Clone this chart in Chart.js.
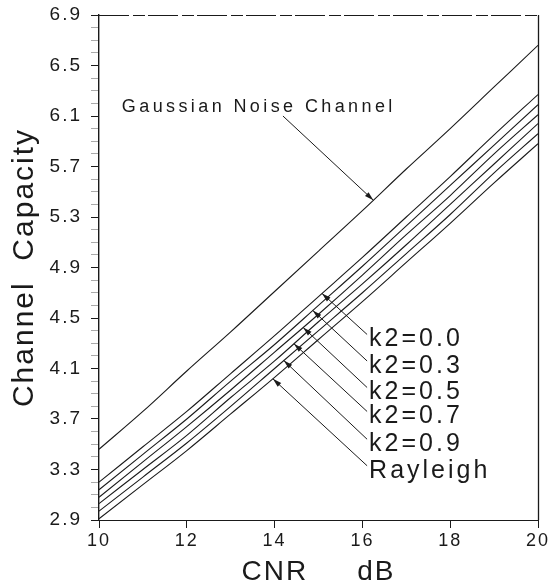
<!DOCTYPE html>
<html>
<head>
<meta charset="utf-8">
<title>Channel Capacity vs CNR</title>
<script src="https://cdn.jsdelivr.net/npm/chart.js@4/dist/chart.umd.min.js"></script>
<style>
  html, body { margin: 0; padding: 0; background: #fff; }
  #wrap { width: 559px; height: 587px; }
</style>
</head>
<body>
<div id="wrap"><canvas id="capacity-chart"></canvas></div>
<script>
// ---- data ----
const cnrDb = [10, 11, 12, 13, 14, 15, 16, 17, 18, 19, 20];

const gaussian = [3.46, 3.76, 4.08, 4.39, 4.71, 5.03, 5.35, 5.68, 6.00, 6.33, 6.66];
const k2_00    = [3.20, 3.48, 3.76, 4.06, 4.36, 4.67, 4.98, 5.30, 5.62, 5.95, 6.27];
const k2_03    = [3.14, 3.42, 3.70, 4.00, 4.29, 4.60, 4.91, 5.23, 5.55, 5.87, 6.19];
const k2_05    = [3.08, 3.36, 3.64, 3.93, 4.23, 4.53, 4.84, 5.16, 5.47, 5.80, 6.11];
const k2_07    = [3.03, 3.30, 3.57, 3.87, 4.16, 4.47, 4.77, 5.08, 5.40, 5.72, 6.04];
const k2_09    = [2.97, 3.24, 3.51, 3.80, 4.10, 4.40, 4.70, 5.01, 5.32, 5.65, 5.96];
const rayleigh = [2.91, 3.18, 3.45, 3.74, 4.03, 4.33, 4.63, 4.94, 5.25, 5.57, 5.88];

const seriesNames = ['Gaussian Noise Channel', 'k2=0.0', 'k2=0.3', 'k2=0.5', 'k2=0.7', 'k2=0.9', 'Rayleigh'];
const seriesValues = [gaussian, k2_00, k2_03, k2_05, k2_07, k2_09, rayleigh];

const xTickLabels = ['10', '12', '14', '16', '18', '20'];
const yTickLabels = ['2.9', '3.3', '3.7', '4.1', '4.5', '4.9', '5.3', '5.7', '6.1', '6.5', '6.9'];
const yMinorTicks = [];
for (let i = 0; i <= 40; i++) yMinorTicks.push(+(2.9 + i * 0.1).toFixed(1));

// label callouts: [text, label x, label y, arrow tip x on its curve]
const curveLabels = [
    ['k2=0.0',   16.13, 4.33, 15.08],
    ['k2=0.3',   16.13, 4.12, 14.87],
    ['k2=0.5',   16.13, 3.91, 14.65],
    ['k2=0.7',   16.13, 3.72, 14.44],
    ['k2=0.9',   16.13, 3.50, 14.21],
    ['Rayleigh', 16.13, 3.29, 13.96]
];

const FONT = "'Liberation Sans', Arial, sans-serif";
const INK = '#1a1a1a';

function valueAt(values, x) {
    // linear interpolation along a series
    const i = Math.min(Math.max(Math.floor(x - cnrDb[0]), 0), cnrDb.length - 2);
    const t = x - cnrDb[i];
    return values[i] + (values[i + 1] - values[i]) * t;
}

function arrow(ctx, x0, y0, x1, y1) {
    const ang = Math.atan2(y1 - y0, x1 - x0);
    const len = 9, half = 2.6;
    ctx.beginPath();
    ctx.moveTo(x0, y0);
    ctx.lineTo(x1, y1);
    ctx.stroke();
    ctx.beginPath();
    ctx.moveTo(x1, y1);
    ctx.lineTo(x1 - len * Math.cos(ang) + half * Math.sin(ang), y1 - len * Math.sin(ang) - half * Math.cos(ang));
    ctx.lineTo(x1 - len * Math.cos(ang) - half * Math.sin(ang), y1 - len * Math.sin(ang) + half * Math.cos(ang));
    ctx.closePath();
    ctx.fill();
}

// ---- frame, letter spacing and callouts ----
const decorations = {
    id: 'decorations',
    beforeDraw(chart) {
        chart.ctx.letterSpacing = '2px';
    },
    afterDraw(chart) {
        const { ctx, chartArea: a, scales: { x, y } } = chart;
        ctx.save();
        ctx.strokeStyle = INK;
        ctx.fillStyle = INK;
        ctx.lineWidth = 1;

        // top (dashed) and right (solid) border
        ctx.setLineDash([30, 4, 12, 3]);
        ctx.beginPath();
        ctx.moveTo(a.left, a.top + 0.5);
        ctx.lineTo(a.right, a.top + 0.5);
        ctx.stroke();
        ctx.setLineDash([]);
        ctx.lineWidth = 1.3;
        ctx.beginPath();
        ctx.moveTo(a.right + 0.5, a.top);
        ctx.lineTo(a.right + 0.5, a.bottom);
        ctx.stroke();

        // Gaussian callout
        ctx.lineWidth = 1;
        ctx.letterSpacing = '3.4px';
        ctx.font = '18px ' + FONT;
        ctx.textBaseline = 'middle';
        ctx.textAlign = 'left';
        ctx.fillText(seriesNames[0], x.getPixelForValue(10.52), y.getPixelForValue(6.17));
        const gx = 16.25;
        arrow(ctx, x.getPixelForValue(14.19), y.getPixelForValue(6.10),
              x.getPixelForValue(gx), y.getPixelForValue(valueAt(gaussian, gx)));

        // fading-curve callouts
        ctx.font = '25px ' + FONT;
        ctx.letterSpacing = '3px';
        curveLabels.forEach(([text, lx, ly, tipX], i) => {
            const px = x.getPixelForValue(lx);
            const py = y.getPixelForValue(ly);
            ctx.fillText(text, px + 1, py);
            arrow(ctx, px - 1, py - 5,
                  x.getPixelForValue(tipX), y.getPixelForValue(valueAt(seriesValues[i + 1], tipX)));
        });

        ctx.restore();
        ctx.letterSpacing = '0px';
    }
};

const ctx = document.getElementById('capacity-chart');

new Chart(ctx, {
    type: 'line',
    data: {
        datasets: seriesValues.map((vals, i) => ({
            label: seriesNames[i],
            data: cnrDb.map((c, j) => ({ x: c, y: vals[j] })),
            borderColor: INK,
            borderWidth: 1.1,
            pointRadius: 0,
            fill: false,
            cubicInterpolationMode: 'monotone'
        }))
    },
    options: {
        responsive: true,
        maintainAspectRatio: false,
        animation: false,
        layout: { padding: { left: 4, top: 15, right: 21, bottom: 0 } },
        plugins: {
            legend: { display: false },
            tooltip: { enabled: false }
        },
        scales: {
            x: {
                type: 'linear',
                min: 10,
                max: 20,
                afterBuildTicks: axis => {
                    axis.ticks = xTickLabels.map(v => ({ value: +v }));
                },
                afterFit: axis => { axis.height = 67; },
                ticks: {
                    color: INK,
                    font: { family: FONT, size: 18 },
                    padding: 2,
                    maxRotation: 0,
                    callback: v => String(v)
                },
                grid: {
                    drawOnChartArea: false,
                    tickLength: 8,
                    color: INK
                },
                border: { color: INK, width: 1, dash: [30, 4, 12, 3] },
                title: {
                    display: true,
                    text: 'CNR     dB',
                    color: INK,
                    font: { family: FONT, size: 28, lineHeight: 1 },
                    padding: { top: 0, bottom: 1 }
                }
            },
            y: {
                type: 'linear',
                min: 2.9,
                max: 6.9,
                afterBuildTicks: axis => {
                    axis.ticks = yMinorTicks.map(v => ({ value: v }));
                },
                afterFit: axis => {
                    axis.width = 95;
                    axis.paddingTop = 0;
                },
                ticks: {
                    color: INK,
                    font: { family: FONT, size: 19 },
                    padding: 9,
                    autoSkip: false,
                    callback: v => {
                        const s = v.toFixed(1);
                        return yTickLabels.includes(s) ? s : '';
                    }
                },
                grid: {
                    drawOnChartArea: false,
                    tickLength: 8,
                    color: c => yTickLabels.includes(c.tick.value.toFixed(1)) ? INK : '#aaa'
                },
                border: { color: INK, width: 1.4 },
                title: {
                    display: true,
                    text: 'Channel  Capacity',
                    color: INK,
                    font: { family: FONT, size: 30, lineHeight: 1 },
                    padding: { top: 6, bottom: 0 }
                }
            }
        }
    },
    plugins: [decorations]
});
</script>
</body>
</html>
